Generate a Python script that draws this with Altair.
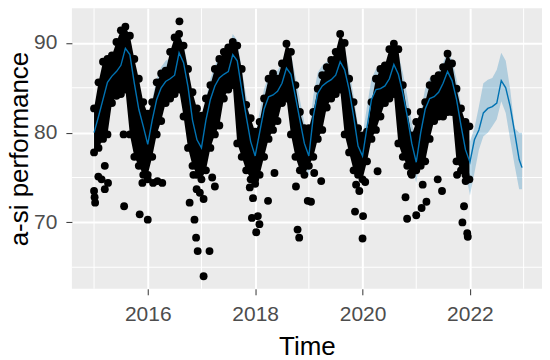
import altair as alt
import pandas as pd

# ---------------- data ----------------
years_fc = [2015, 2016, 2017, 2018, 2019, 2020, 2021, 2022]
years_obs = [2015, 2016, 2017, 2018, 2019, 2020, 2021]

# fitted / forecast line (value at start of each month) + final point
yhat = [
    80.0, 81.8, 83.7, 85.6, 86.3, 86.8, 87.5, 89.4, 88.7, 85.5, 82.6, 80.7,  # 2015
    78.7, 81.4, 83.7, 85.0, 85.7, 86.0, 86.4, 88.9, 87.8, 85.1, 81.4, 79.2,  # 2016
    78.3, 81.4, 83.7, 85.2, 86.1, 86.5, 86.8, 88.7, 88.0, 84.8, 81.8, 79.0,  # 2017
    77.4, 80.0, 82.6, 84.0, 84.2, 84.6, 85.5, 87.2, 86.5, 84.0, 81.4, 78.8,  # 2018
    77.4, 81.8, 84.4, 85.2, 85.6, 85.9, 86.4, 87.9, 87.0, 84.8, 81.8, 78.5,  # 2019
    77.4, 80.6, 83.7, 84.8, 84.9, 85.2, 86.0, 87.6, 86.5, 84.4, 81.8, 78.8,  # 2020
    76.7, 80.0, 82.6, 83.8, 84.0, 84.5, 85.5, 86.8, 85.8, 83.7, 80.8, 78.1,  # 2021
    76.7, 79.2, 80.3, 82.2, 82.7, 82.9, 83.3, 85.8, 85.0, 82.9, 80.0, 77.0,  # 2022
    76.1,
]
band_up = [
    82.3, 84.1, 86.0, 87.9, 88.6, 89.1, 89.8, 91.7, 90.8, 87.4, 84.9, 83.0,
    81.0, 83.7, 86.0, 87.3, 88.0, 88.3, 88.7, 91.2, 89.8, 87.4, 83.7, 81.5,
    80.6, 83.7, 86.0, 87.5, 88.4, 88.8, 89.1, 91.0, 90.3, 87.1, 84.1, 81.3,
    79.7, 82.3, 84.9, 86.3, 86.5, 86.9, 87.8, 89.5, 88.8, 86.3, 83.7, 81.1,
    79.7, 84.1, 86.7, 87.5, 87.9, 88.2, 88.7, 90.2, 89.3, 87.1, 84.1, 80.8,
    79.7, 82.9, 86.0, 87.1, 87.2, 87.5, 88.3, 89.9, 88.8, 86.7, 84.1, 81.1,
    79.0, 82.3, 84.9, 86.1, 86.3, 86.8, 87.8, 89.1, 88.1, 86.0, 83.1, 80.4,
    79.0, 80.5, 82.9, 85.5, 85.9, 86.1, 87.0, 88.9, 88.0, 84.8, 80.5, 80.0,
    80.0,
]
band_lo = [
    77.7, 79.5, 81.4, 83.3, 84.0, 84.5, 85.2, 87.1, 86.2, 82.8, 80.3, 78.4,
    76.4, 79.1, 81.4, 82.7, 83.4, 83.7, 84.1, 86.6, 85.2, 82.8, 79.1, 76.9,
    76.0, 79.1, 81.4, 82.9, 83.8, 84.2, 84.5, 86.4, 85.7, 82.5, 79.5, 76.7,
    75.1, 77.7, 80.3, 81.7, 81.9, 82.3, 83.2, 84.9, 84.2, 81.7, 79.1, 76.5,
    75.1, 79.5, 82.1, 82.9, 83.3, 83.6, 84.1, 85.6, 84.7, 82.5, 79.5, 76.2,
    75.1, 78.3, 81.4, 82.5, 82.6, 82.9, 83.7, 85.3, 84.2, 82.1, 79.5, 76.5,
    74.4, 77.7, 80.3, 81.5, 81.7, 82.2, 83.2, 84.5, 83.5, 81.4, 78.5, 75.8,
    73.0, 75.5, 78.1, 79.6, 80.0, 80.7, 81.5, 83.5, 82.2, 79.2, 76.3, 73.7,
    73.7,
]

# upper and lower edge of the dense cloud of observations (month starts) + last day
obs_hi = [
    82.7, 85.6, 87.9, 88.2, 88.6, 90.1, 91.4, 91.8, 90.8, 88.2, 86.0, 83.4,
    82.1, 83.4, 85.6, 86.6, 86.9, 89.0, 90.6, 91.0, 89.7, 87.1, 84.5, 82.7,
    81.9, 83.8, 85.3, 87.1, 88.2, 89.0, 89.5, 90.1, 89.7, 87.1, 83.1, 81.6,
    80.1, 81.2, 83.8, 86.0, 86.6, 86.0, 87.7, 89.9, 89.0, 85.3, 82.3, 80.5,
    80.5, 82.3, 84.9, 86.4, 87.3, 88.1, 89.0, 91.0, 90.0, 86.0, 83.4, 80.5,
    79.7, 80.1, 83.4, 86.0, 87.1, 87.5, 89.3, 89.9, 89.3, 85.3, 82.3, 79.7,
    81.2, 82.3, 83.4, 85.3, 86.0, 86.4, 87.3, 88.8, 87.7, 84.9, 82.7, 81.2,
    80.7,
]
obs_lo = [
    77.8, 78.3, 79.3, 79.8, 83.3, 84.1, 84.3, 84.8, 79.8, 77.3, 76.3, 75.3,
    75.3, 77.3, 79.8, 81.3, 83.3, 83.8, 84.3, 84.8, 81.8, 78.3, 76.3, 75.3,
    74.8, 75.8, 78.3, 79.8, 80.8, 83.8, 84.8, 85.3, 78.8, 77.3, 75.8, 74.8,
    74.8, 75.3, 77.3, 79.3, 80.3, 81.3, 83.3, 83.8, 79.8, 77.3, 75.8, 75.3,
    76.3, 77.3, 79.3, 80.3, 82.8, 83.8, 84.3, 84.8, 79.8, 77.8, 75.8, 75.3,
    74.8, 76.8, 79.3, 80.3, 81.8, 83.3, 83.8, 84.3, 78.8, 77.3, 76.3, 75.3,
    75.8, 76.3, 76.8, 79.3, 81.3, 81.8, 81.8, 82.3, 82.3, 76.8, 75.8, 75.3,
    74.8,
]

# scattered observations outside the dense cloud (decimal year, value)
out_t = [2015.00, 2015.01, 2015.02, 2015.08, 2015.20, 2015.20, 2015.26, 2015.14,
         2015.56, 2015.85, 2016.00, 2015.55, 2015.84, 2015.90, 2016.00, 2016.10,
         2016.27, 2016.18, 2016.59,
         2016.78, 2016.87, 2016.90, 2016.93, 2017.15, 2017.04, 2016.85, 2016.91,
         2016.97, 2017.04, 2017.25, 2017.20,
         2017.90, 2017.96, 2018.24, 2017.94, 2018.02, 2018.05, 2018.08, 2018.36,
         2018.00,
         2018.79, 2018.82, 2018.76, 2018.98, 2019.04, 2019.23, 2019.10,
         2019.88, 2019.94, 2019.86, 2020.01, 2020.00, 2020.28, 2020.05,
         2020.80, 2020.83, 2021.00, 2021.10, 2021.19, 2021.48, 2021.40, 2021.12,
         2020.90,
         2021.89, 2021.86, 2021.95, 2021.96, 2021.92, 2021.76]
out_v = [73.5, 72.8, 72.2, 75.1, 76.3, 73.7, 74.4, 74.8,
         71.8, 70.9, 70.3, 79.8, 77.5, 74.4, 74.8, 74.4,
         74.4, 74.6, 92.4,
         72.2, 70.3, 68.3, 66.8, 66.8, 64.0, 75.3, 73.7,
         73.3, 72.6, 74.0, 75.0,
         73.9, 72.7, 72.4, 70.5, 68.9, 70.7, 69.8, 75.5,
         74.3,
         69.2, 68.3, 74.0, 72.4, 72.3, 74.6, 75.5,
         74.2, 73.5, 71.2, 70.7, 68.2, 75.7, 74.5,
         72.8, 70.4, 70.8, 71.6, 72.3, 73.5, 74.8, 74.2,
         75.5,
         71.8, 70.0, 68.8, 68.4, 74.6, 75.3]

x_ticks = [2016, 2018, 2020, 2022]
x_minor = [2015, 2017, 2019, 2021, 2023]
y_ticks = [70, 80, 90]
y_minor = [65, 75, 85]

# ---------------- tables ----------------
t_fc = [y + m / 12 for y in years_fc for m in range(12)] + [2022.97]
t_obs = [y + m / 12 for y in years_obs for m in range(12)] + [2021.99]

fc = pd.DataFrame({"t": t_fc, "yhat": yhat, "up": band_up, "lo": band_lo})
obs = pd.DataFrame({"t": t_obs, "hi": obs_hi, "lo": obs_lo})
edge = pd.concat([
    pd.DataFrame({"t": t_obs, "v": obs_hi}),
    pd.DataFrame({"t": t_obs, "v": obs_lo}),
    pd.DataFrame({"t": out_t, "v": out_v}),
])
minor_x = pd.DataFrame({"t": x_minor})
minor_y = pd.DataFrame({"v": y_minor})

xs = alt.Scale(domain=[2014.587, 2023.342], nice=False, zero=False)
ys = alt.Scale(domain=[62.6, 93.85], nice=False, zero=False)

FONT = "Liberation Sans"
x_axis = alt.Axis(values=x_ticks, format="d", title="Time")
y_axis = alt.Axis(values=y_ticks, format="d", title="a-si performance")

base_x = alt.X("t:Q", scale=xs, axis=x_axis)

grid_x = alt.Chart(minor_x).mark_rule(color="white", strokeWidth=1).encode(
    x=alt.X("t:Q", scale=xs, axis=x_axis)
)
grid_y = alt.Chart(minor_y).mark_rule(color="white", strokeWidth=1).encode(
    y=alt.Y("v:Q", scale=ys, axis=y_axis)
)

ribbon = alt.Chart(fc).mark_area(color="#0072B2", opacity=0.25).encode(
    x=base_x,
    y=alt.Y("lo:Q", scale=ys, axis=y_axis),
    y2="up:Q",
)
cloud = alt.Chart(obs).mark_area(color="black", opacity=1).encode(
    x=base_x,
    y=alt.Y("lo:Q", scale=ys, axis=y_axis),
    y2="hi:Q",
)
pts = alt.Chart(edge).mark_circle(size=62, color="black", opacity=1).encode(
    x=base_x,
    y=alt.Y("v:Q", scale=ys, axis=y_axis),
)
line = alt.Chart(fc).mark_line(color="#0072B2", strokeWidth=1.4).encode(
    x=base_x,
    y=alt.Y("yhat:Q", scale=ys, axis=y_axis),
)

chart = (
    alt.layer(grid_x, grid_y, ribbon, cloud, pts, line)
    .properties(
        width=471,
        height=281,
        autosize="none",
        padding={"left": 64, "top": 0, "right": 0, "bottom": 70},
    )
    .configure_view(fill="#EBEBEB", strokeWidth=0)
    .configure_axis(
        domain=False,
        grid=True,
        gridColor="white",
        gridWidth=2,
        tickColor="#333333",
        tickSize=6,
        tickWidth=1,
        labelFont=FONT,
        labelFontSize=21,
        labelColor="#4D4D4D",
        labelPadding=9,
        titleFont=FONT,
        titleFontSize=26,
        titleFontWeight="normal",
        titleColor="black",
    )
    .configure_axisX(titlePadding=9)
    .configure_axisY(titlePadding=1)
)

chart.save("out.html", embed_options={"renderer": "svg", "actions": False})
